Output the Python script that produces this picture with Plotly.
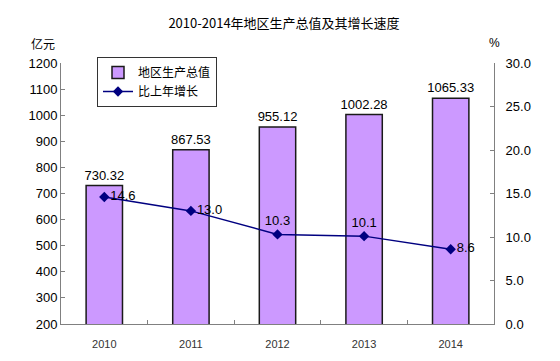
import plotly.graph_objects as go

years = ["2010", "2011", "2012", "2013", "2014"]
gdp = [730.32, 867.53, 955.12, 1002.28, 1065.33]
growth = [14.6, 13.0, 10.3, 10.1, 8.6]
growth_pos = ["middle right", "middle right", "top center", "top center", "middle right"]

font_num = "Liberation Sans, Arial, sans-serif"
font_cjk = "Noto Sans CJK SC, sans-serif"

W, H = 552, 353

fig = go.Figure()
fig.add_trace(go.Bar(
    x=years, y=gdp, name="地区生产总值",
    marker=dict(color="#CC99FF", line=dict(color="#1a1a1a", width=1.5)),
    width=0.42,
    text=[f"{v:.2f}" for v in gdp], textposition="outside", constraintext="none",
    textfont=dict(family=font_num, size=13, color="#000"),
    cliponaxis=False,
))
fig.add_trace(go.Scatter(
    x=years, y=growth, name="比上年增长", yaxis="y2",
    mode="lines+markers+text",
    line=dict(color="#000080", width=1.5),
    marker=dict(symbol="diamond", size=8, color="#000080"),
    text=[f"{v:.1f}" for v in growth], textposition=growth_pos,
    textfont=dict(family=font_num, size=13, color="#000"),
    cliponaxis=False,
))

fig.update_layout(
    width=W, height=H,
    margin=dict(l=53, r=66, t=55, b=37, autoexpand=False),
    paper_bgcolor="white", plot_bgcolor="white",
    showlegend=True,
    bargap=0.58,
    title=dict(text="2010-2014年地区生产总值及其增长速度", x=0.5, xanchor="center",
               y=1 - 15 / H, yanchor="middle",
               font=dict(family=font_cjk, size=13, color="#000", weight=400)),
    legend=dict(xref="container", yref="container", x=89 / W, y=1 - 49 / H,
                xanchor="left", yanchor="top",
                bordercolor="#333", borderwidth=1, bgcolor="white",
                font=dict(family=font_cjk, size=12, color="#000"),
                tracegroupgap=0, itemwidth=30),
    xaxis=dict(type="category", showline=True, linecolor="#808080", linewidth=1,
               ticks="inside", ticklen=4, tickcolor="#808080", tickson="boundaries",
               showgrid=False, ticklabelstandoff=10, automargin=False,
               tickfont=dict(family=font_num, size=11, color="#333")),
    yaxis=dict(range=[200, 1200], dtick=100, showline=True, linecolor="#808080",
               linewidth=1, ticks="inside", ticklen=4, tickcolor="#808080",
               showgrid=False, zeroline=False, automargin=False,
               tickfont=dict(family=font_num, size=13, color="#000")),
    yaxis2=dict(range=[0, 30], dtick=5, tickformat=".1f", overlaying="y", side="right",
                showline=True, linecolor="#808080", linewidth=1, ticks="inside",
                ticklen=4, tickcolor="#808080", showgrid=False, zeroline=False,
                ticklabelstandoff=8, automargin=False,
                tickfont=dict(family=font_num, size=13, color="#000")),
    annotations=[
        dict(text="亿元", xref="paper", yref="paper", x=-0.01, y=1 + 20 / 261,
             xanchor="right", yanchor="middle", showarrow=False,
             font=dict(family=font_cjk, size=12, color="#000")),
        dict(text="%", xref="paper", yref="paper", x=1.0, y=1 + 20 / 261,
             xanchor="center", yanchor="middle", showarrow=False,
             font=dict(family=font_num, size=12, color="#000")),
    ],
)

fig.write_html("out.html")
